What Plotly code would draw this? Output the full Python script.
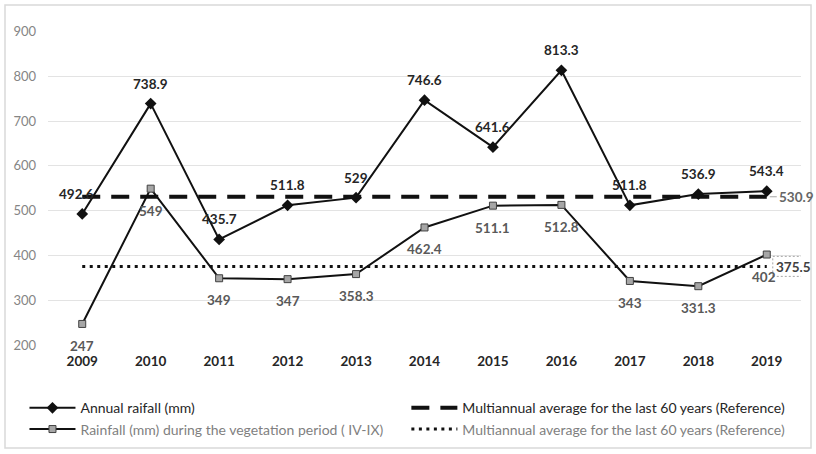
import plotly.graph_objects as go

years = ["2009", "2010", "2011", "2012", "2013", "2014", "2015", "2016", "2017", "2018", "2019"]
annual_rainfall = [492.6, 738.9, 435.7, 511.8, 529, 746.6, 641.6, 813.3, 511.8, 536.9, 543.4]
vegetation_rainfall = [247, 549, 349, 347, 358.3, 462.4, 511.1, 512.8, 343, 331.3, 402]
annual_reference = 530.9
vegetation_reference = 375.5

FONT = "Lato, 'Open Sans', sans-serif"
DARK = "#262626"
GRAY = "#7f7f7f"

def fmt(v):
    return f"{v:g}"

# horizontal nudges (px) for a few crowded value labels
annual_dx = [-6, 0, 0, 0, 0, 0, 0, 0, 0, 0, 0]
veg_dx = [0, 0, 0, 0, 0, 0, 0, 0, 0, 0, -3]

fig = go.Figure()

# Annual rainfall, black diamonds
fig.add_trace(go.Scatter(
    x=years, y=annual_rainfall, mode="lines+markers",
    name="Annual raifall (mm)",
    line=dict(color="#111111", width=2),
    marker=dict(symbol="diamond", size=9, color="#111111"),
    legend="legend",
))

# Vegetation-period rainfall, grey squares
fig.add_trace(go.Scatter(
    x=years, y=vegetation_rainfall, mode="lines+markers",
    name=f"<span style='color:{GRAY}'>Rainfall (mm) during the vegetation period ( IV-IX)</span>",
    line=dict(color="#111111", width=2),
    marker=dict(symbol="square", size=7, color="#a6a6a6", line=dict(color="#404040", width=1)),
    legend="legend",
))

# Long-term reference lines
fig.add_trace(go.Scatter(
    x=years, y=[annual_reference] * len(years), mode="lines",
    name="Multiannual average for the last 60 years (Reference)",
    line=dict(color="#111111", width=4, dash="18px,11px"),
    legend="legend2",
))
fig.add_trace(go.Scatter(
    x=years, y=[vegetation_reference] * len(years), mode="lines",
    name=f"<span style='color:{GRAY}'>Multiannual average for the last 60 years (Reference)</span>",
    line=dict(color="#111111", width=3, dash="3px,4.5px"),
    legend="legend2",
))

# Value labels (category axis positions given by index): annual above, vegetation period below
for i, (v, dx) in enumerate(zip(annual_rainfall, annual_dx)):
    fig.add_annotation(x=i, y=v, text=f"<b>{fmt(v)}</b>", showarrow=False,
                       xshift=dx, yshift=20,
                       font=dict(family=FONT, size=13.5, color=DARK))
for i, (v, dx) in enumerate(zip(vegetation_rainfall, veg_dx)):
    fig.add_annotation(x=i, y=v, text=f"<b>{fmt(v)}</b>", showarrow=False,
                       xshift=dx, yshift=-22,
                       font=dict(family=FONT, size=13.5, color="#595959"))

last = len(years) - 1

# Reference values at the right end of each line
fig.add_annotation(x=last, y=annual_reference, text=f"<b>{fmt(annual_reference)}</b>",
                   showarrow=False, xanchor="left", xshift=10,
                   font=dict(family=FONT, size=13.5, color="#666666"))
fig.add_shape(
    type="line", xref="x", yref="y", xsizemode="pixel",
    xanchor=last, x0=3, x1=10, y0=annual_reference, y1=annual_reference,
    line=dict(color="#a6a6a6", width=1),
)
fig.add_annotation(x=last, y=vegetation_reference, text=f"<b>{fmt(vegetation_reference)}</b>",
                   showarrow=False, xanchor="left", xshift=7, yshift=-1,
                   font=dict(family=FONT, size=13.5, color="#404040"))
fig.add_shape(
    type="rect", xref="x", yref="y",
    xsizemode="pixel", ysizemode="pixel",
    xanchor=last, yanchor=vegetation_reference,
    x0=6, x1=43, y0=-10, y1=10,
    line=dict(color="#a6a6a6", width=1, dash="2px,2px"),
)

# Outer chart frame
fig.add_shape(
    type="rect", xref="paper", yref="paper",
    x0=-0.0571, x1=1.0133, y0=-0.328, y1=1.0828,
    line=dict(color="#d9d9d9", width=1.5),
)

legend_style = dict(
    xref="container", yref="container", xanchor="left", yanchor="top",
    bgcolor="rgba(0,0,0,0)", font=dict(family=FONT, size=14, color=DARK),
    tracegroupgap=0, itemwidth=46,
)

fig.update_layout(
    width=816, height=454,
    margin=dict(l=48, r=15, t=31, b=109, autoexpand=False),
    paper_bgcolor="white", plot_bgcolor="white",
    font=dict(family=FONT, size=13, color=DARK),
    showlegend=True,
    legend=dict(x=0.03, y=0.136, **legend_style),
    legend2=dict(x=0.498, y=0.136, **legend_style),
    xaxis=dict(
        type="category", range=[-0.5, len(years) - 0.5],
        showgrid=False, zeroline=False, showline=False,
        tickfont=dict(family=FONT, size=13.5, color=DARK, weight="bold"),
        ticklabelstandoff=6,
    ),
    yaxis=dict(
        range=[200, 901], tickvals=[200, 300, 400, 500, 600, 700, 800, 900],
        showgrid=True, gridcolor="#e3e3e3", gridwidth=1, zeroline=False, showline=False,
        tickfont=dict(family=FONT, size=13, color="#858585"),
        ticklabelstandoff=11,
    ),
)

fig.write_html("out.html")
